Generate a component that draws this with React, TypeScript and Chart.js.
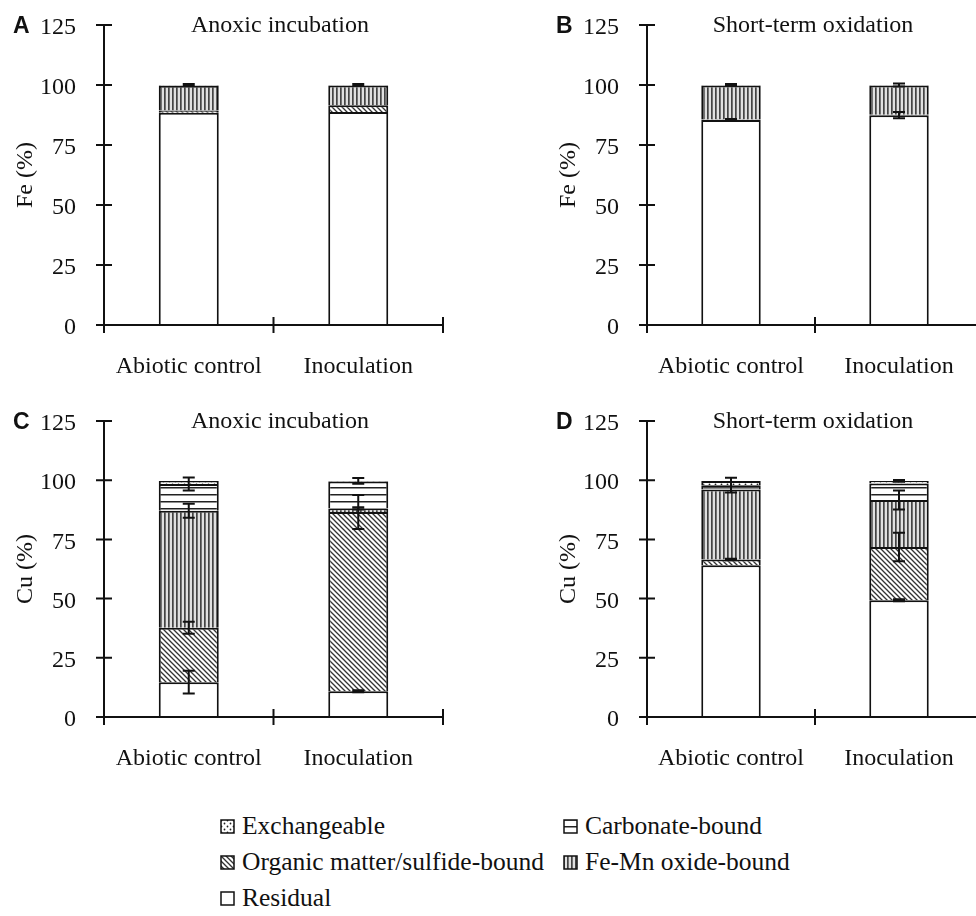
import React, { useEffect, useRef } from 'react';
import { Chart, registerables } from 'chart.js';
Chart.register(...registerables);

// ---------- data ----------
const categories = ['Abiotic control', 'Inoculation'];
// stack order, bottom -> top
const fractions = ['Residual', 'Organic matter/sulfide-bound', 'Fe-Mn oxide-bound', 'Carbonate-bound', 'Exchangeable'];
const yTickValues = [0, 25, 50, 75, 100, 125];

// Panel A: Fe, anoxic incubation (values per fraction, bottom -> top)
const feAnoxicAbiotic = [88.4, 1.0, 10.3, 0.2, 0.1];
const feAnoxicInoculation = [88.8, 2.8, 8.2, 0.1, 0.1];
const feAnoxicAbioticErr = [0, 0, 0, 0, 0.4];
const feAnoxicInoculationErr = [0, 0, 0, 0, 0.4];

// Panel B: Fe, short-term oxidation
const feOxidAbiotic = [85.4, 0.2, 14.2, 0.1, 0.1];
const feOxidInoculation = [87.4, 0.2, 12.2, 0.1, 0.1];
const feOxidAbioticErr = [0.4, 0, 0, 0, 0.4];
const feOxidInoculationErr = [1.3, 0, 0, 0, 0.6];

// Panel C: Cu, anoxic incubation
const cuAnoxicAbiotic = [14.7, 23.0, 49.4, 11.3, 1.3];
const cuAnoxicInoculation = [10.9, 75.7, 1.5, 11.3, 0.3];
const cuAnoxicAbioticErr = [4.8, 2.5, 3.0, 2.7, 0];
const cuAnoxicInoculationErr = [0.4, 7.2, 0.5, 0, 1.2];

// Panel D: Cu, short-term oxidation
const cuOxidAbiotic = [64.1, 2.4, 29.6, 1.8, 1.8];
const cuOxidInoculation = [49.3, 22.5, 19.8, 7.0, 1.1];
const cuOxidAbioticErr = [0, 0.3, 0, 3.1, 0];
const cuOxidInoculationErr = [0.4, 6.0, 4.0, 0, 0.4];

// ---------- patterns ----------
type Kind = 'residual' | 'organic' | 'femn' | 'carbonate' | 'exch';
const kinds: Kind[] = ['residual', 'organic', 'femn', 'carbonate', 'exch'];

function makePattern(ctx: CanvasRenderingContext2D, kind: Kind): CanvasPattern | string {
  if (kind === 'residual') return '#ffffff';
  const c = document.createElement('canvas');
  const g = c.getContext('2d')!;
  if (kind === 'organic') {
    const s = 5;
    c.width = s; c.height = s;
    g.fillStyle = '#fff'; g.fillRect(0, 0, s, s);
    g.strokeStyle = '#333'; g.lineWidth = 1.3;
    g.beginPath();
    g.moveTo(-1, -1); g.lineTo(s + 1, s + 1);
    g.moveTo(-1, s - 1); g.lineTo(1, s + 1);
    g.moveTo(s - 1, -1); g.lineTo(s + 1, 1);
    g.stroke();
  } else if (kind === 'femn') {
    c.width = 4; c.height = 4;
    g.fillStyle = '#e0e0e0'; g.fillRect(0, 0, 4, 4);
    g.fillStyle = '#444'; g.fillRect(0, 0, 1.7, 4);
  } else if (kind === 'carbonate') {
    c.width = 4; c.height = 7;
    g.fillStyle = '#fff'; g.fillRect(0, 0, 4, 7);
    g.fillStyle = '#222'; g.fillRect(0, 0, 4, 1.5);
  } else {
    c.width = 6; c.height = 6;
    g.fillStyle = '#fff'; g.fillRect(0, 0, 6, 6);
    g.fillStyle = '#222';
    g.beginPath(); g.arc(1.5, 1.5, 0.9, 0, Math.PI * 2); g.fill();
    g.beginPath(); g.arc(4.5, 4.5, 0.9, 0, Math.PI * 2); g.fill();
  }
  return ctx.createPattern(c, 'repeat')!;
}

// ---------- plugins ----------
function decorPlugin(letter: string, title: string, titleX: number) {
  return {
    id: 'decor',
    afterDraw(chart: any) {
      const { ctx, chartArea, scales } = chart;
      const xs = scales.x, ys = scales.y;
      ctx.save();
      ctx.strokeStyle = '#111';
      ctx.lineWidth = 2;
      const top = ys.getPixelForValue(125);
      const by = ys.getPixelForValue(0);
      ctx.beginPath();
      ctx.moveTo(chartArea.left, top); ctx.lineTo(chartArea.left, by);
      yTickValues.forEach((v) => {
        const py = ys.getPixelForValue(v);
        ctx.moveTo(chartArea.left - 8, py); ctx.lineTo(chartArea.left + 8, py);
      });
      ctx.moveTo(chartArea.left, by); ctx.lineTo(chartArea.right, by);
      const p0 = xs.getPixelForValue(0), p1 = xs.getPixelForValue(1);
      const half = (p1 - p0) / 2;
      [p0 - half, p0 + half, p1 + half].forEach((px) => {
        ctx.moveTo(px, by - 8); ctx.lineTo(px, by + 8);
      });
      ctx.stroke();
      ctx.fillStyle = '#111';
      ctx.textBaseline = 'middle';
      ctx.textAlign = 'left';
      ctx.font = 'bold 23px "Liberation Sans", Arial, sans-serif';
      ctx.fillText(letter, 13, top + 2);
      ctx.textAlign = 'center';
      ctx.font = '24px "Liberation Serif", "Times New Roman", serif';
      ctx.fillText(title, titleX, top + 1);
      ctx.restore();
    },
  };
}

function errorPlugin(values: number[][], errors: number[][]) {
  return {
    id: 'errbars',
    afterDatasetsDraw(chart: any) {
      const { ctx, scales } = chart;
      const ys = scales.y;
      ctx.save();
      ctx.strokeStyle = '#111';
      ctx.lineWidth = 2;
      values.forEach((vals, ci) => {
        let cum = 0;
        vals.forEach((v, k) => {
          cum += v;
          const e = errors[ci][k];
          if (!e) return;
          const meta = chart.getDatasetMeta(k);
          const bar = meta.data[ci];
          const x = bar.x;
          const y1 = ys.getPixelForValue(cum + e);
          const y2 = ys.getPixelForValue(cum - e);
          ctx.beginPath();
          ctx.moveTo(x, y1); ctx.lineTo(x, y2);
          ctx.moveTo(x - 6, y1); ctx.lineTo(x + 6, y1);
          ctx.moveTo(x - 6, y2); ctx.lineTo(x + 6, y2);
          ctx.stroke();
        });
      });
      ctx.restore();
    },
  };
}

// ---------- panel ----------
type PanelProps = {
  left: number; top: number; width: number; height: number;
  plotRight: number; plotBottom: number;
  letter: string; title: string; titleX: number; yLabel: string;
  abiotic: number[]; inoculation: number[];
  abioticErr: number[]; inoculationErr: number[];
};

const FONT = '"Liberation Serif", "Times New Roman", serif';

function Panel(p: PanelProps) {
  const ref = useRef<HTMLCanvasElement | null>(null);
  useEffect(() => {
    const canvas = ref.current!;
    const ctx = canvas.getContext('2d')!;
    const datasets = fractions.map((name, k) => ({
      label: name,
      data: [p.abiotic[k], p.inoculation[k]],
      backgroundColor: makePattern(ctx, kinds[k]) as any,
      borderColor: '#111',
      borderWidth: 2,
      borderSkipped: 'start' as const,
      categoryPercentage: 1,
      barPercentage: 0.354,
    }));
    const chart = new Chart(canvas, {
      type: 'bar',
      data: { labels: categories, datasets },
      options: {
        responsive: false,
        animation: false,
        layout: { padding: { left: 0, top: 25, right: p.width - p.plotRight, bottom: 0 } },
        plugins: { legend: { display: false }, tooltip: { enabled: false }, title: { display: false } },
        scales: {
          x: {
            stacked: true,
            grid: { display: true, drawOnChartArea: false, color: 'rgba(0,0,0,0)', tickLength: 8 },
            border: { display: false },
            ticks: { font: { family: FONT, size: 24 }, color: '#111', padding: 19, maxRotation: 0, autoSkip: false },
            afterFit: (s: any) => { s.height = p.height - p.plotBottom; s.paddingLeft = 0; s.paddingRight = 0; },
          },
          y: {
            stacked: true,
            min: 0,
            max: 125,
            grid: { display: true, drawOnChartArea: false, color: 'rgba(0,0,0,0)', tickLength: 8 },
            border: { display: false },
            ticks: { stepSize: 25, font: { family: FONT, size: 24 }, color: '#111', padding: 20, labelOffset: 3 },
            title: { display: true, text: p.yLabel, font: { family: FONT, size: 24 }, color: '#111', padding: { top: 11, bottom: 0 } },
            afterFit: (s: any) => { s.width = 104; s.paddingTop = 0; s.paddingBottom = 0; },
          },
        },
      },
      plugins: [
        decorPlugin(p.letter, p.title, p.titleX),
        errorPlugin([p.abiotic, p.inoculation], [p.abioticErr, p.inoculationErr]),
      ],
    });
    return () => chart.destroy();
  }, []);
  return (
    <canvas
      ref={ref}
      width={p.width}
      height={p.height}
      style={{ position: 'absolute', left: p.left, top: p.top, width: p.width, height: p.height }}
    />
  );
}

function Swatch({ kind }: { kind: Kind }) {
  const ref = useRef<HTMLCanvasElement | null>(null);
  useEffect(() => {
    const c = ref.current!;
    const g = c.getContext('2d')!;
    g.clearRect(0, 0, 15, 15);
    g.fillStyle = makePattern(g, kind) as any;
    g.fillRect(1, 1, 13, 13);
    g.strokeStyle = '#111';
    g.lineWidth = 1.5;
    g.strokeRect(1, 1, 13, 13);
  }, []);
  return <canvas ref={ref} width={15} height={15} style={{ width: 15, height: 15, display: 'block' }} />;
}

const legendItems: { kind: Kind; label: string; x: number; y: number }[] = [
  { kind: 'exch', label: 'Exchangeable', x: 220, y: 826 },
  { kind: 'carbonate', label: 'Carbonate-bound', x: 563, y: 826 },
  { kind: 'organic', label: 'Organic matter/sulfide-bound', x: 220, y: 862 },
  { kind: 'femn', label: 'Fe-Mn oxide-bound', x: 563, y: 862 },
  { kind: 'residual', label: 'Residual', x: 220, y: 898 },
];

export default function App() {
  return (
    <div style={{ position: 'absolute', left: 0, top: 0, width: 976, height: 916, overflow: 'hidden', background: '#fff' }}>
      <Panel left={0} top={0} width={488} height={396} plotRight={443} plotBottom={325}
        letter="A" title="Anoxic incubation" titleX={280} yLabel="Fe (%)"
        abiotic={feAnoxicAbiotic} inoculation={feAnoxicInoculation}
        abioticErr={feAnoxicAbioticErr} inoculationErr={feAnoxicInoculationErr} />
      <Panel left={543} top={0} width={460} height={396} plotRight={440} plotBottom={325}
        letter="B" title="Short-term oxidation" titleX={270} yLabel="Fe (%)"
        abiotic={feOxidAbiotic} inoculation={feOxidInoculation}
        abioticErr={feOxidAbioticErr} inoculationErr={feOxidInoculationErr} />
      <Panel left={0} top={396} width={488} height={400} plotRight={443} plotBottom={321}
        letter="C" title="Anoxic incubation" titleX={280} yLabel="Cu (%)"
        abiotic={cuAnoxicAbiotic} inoculation={cuAnoxicInoculation}
        abioticErr={cuAnoxicAbioticErr} inoculationErr={cuAnoxicInoculationErr} />
      <Panel left={543} top={396} width={460} height={400} plotRight={440} plotBottom={321}
        letter="D" title="Short-term oxidation" titleX={270} yLabel="Cu (%)"
        abiotic={cuOxidAbiotic} inoculation={cuOxidInoculation}
        abioticErr={cuOxidAbioticErr} inoculationErr={cuOxidInoculationErr} />
      {legendItems.map((it) => (
        <div key={it.label} style={{ position: 'absolute', left: it.x, top: it.y - 15, height: 30, display: 'flex', alignItems: 'center', gap: 7, fontFamily: FONT, fontSize: 25.5, color: '#111', whiteSpace: 'nowrap' }}>
          <Swatch kind={it.kind} />
          <span style={{ lineHeight: '30px' }}>{it.label}</span>
        </div>
      ))}
    </div>
  );
}
